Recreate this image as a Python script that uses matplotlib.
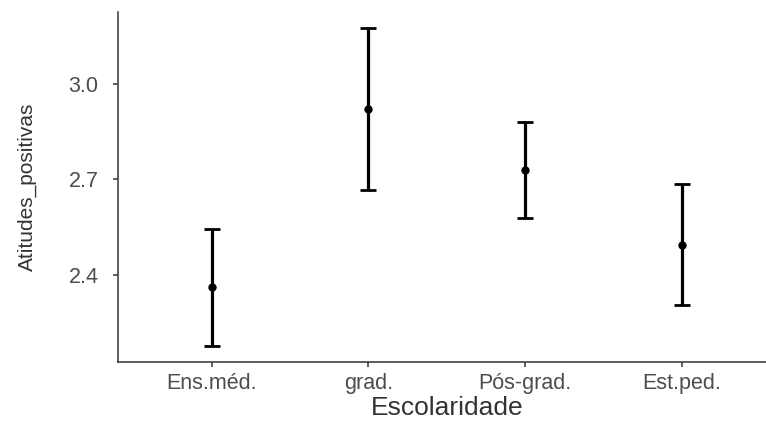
import matplotlib
matplotlib.use("Agg")
import matplotlib.pyplot as plt
import numpy as np

# Mean score and 95% CI per education level
categories = ["Ens.méd.", "grad.", "Pós-grad.", "Est.ped."]
means = [2.361, 2.922, 2.729, 2.493]
ci_low = [2.177, 2.666, 2.579, 2.304]
ci_high = [2.545, 3.176, 2.880, 2.685]
y_ticks = [2.4, 2.7, 3.0]

plt.rcParams["font.family"] = ["Liberation Sans", "DejaVu Sans"]

fig = plt.figure(figsize=(7.66, 4.21), dpi=100)
ax = fig.add_axes([0.1534, 0.1413, 0.8596, 0.8302])

x = np.arange(1, len(categories) + 1)
means_a = np.array(means)
yerr = np.vstack([means_a - np.array(ci_low), np.array(ci_high) - means_a])

ax.errorbar(x, means_a, yerr=yerr, fmt="none", ecolor="black",
            elinewidth=2.3, capsize=5.8, capthick=2.0, zorder=2)
ax.plot(x, means_a, "o", color="black", markersize=5, zorder=3)

ax.set_xlim(0.4, 4.6)
ax.set_ylim(2.127, 3.2266)
ax.set_xticks(x)
ax.set_xticklabels(categories)
ax.set_yticks(y_ticks)
ax.set_yticklabels([f"{v:.1f}" for v in y_ticks])

for side in ("top", "right"):
    ax.spines[side].set_visible(False)
for side in ("left", "bottom"):
    ax.spines[side].set_color("#333333")
    ax.spines[side].set_linewidth(1.1)

ax.tick_params(axis="both", colors="#333333", labelcolor="#4D4D4D",
               length=3.6, width=1.1, labelsize=15.5)
ax.tick_params(axis="x", pad=4.5)
ax.tick_params(axis="y", pad=10)

ax.set_xlabel("Escolaridade", fontsize=19, color="#333333")
ax.xaxis.set_label_coords(0.501, -0.1)
ax.xaxis.label.set_verticalalignment("top")

ax.set_ylabel("Atitudes_positivas", fontsize=15, color="#333333")
ax.yaxis.set_label_coords(-0.122, 0.5007)

fig.savefig("out.png", dpi=100)
